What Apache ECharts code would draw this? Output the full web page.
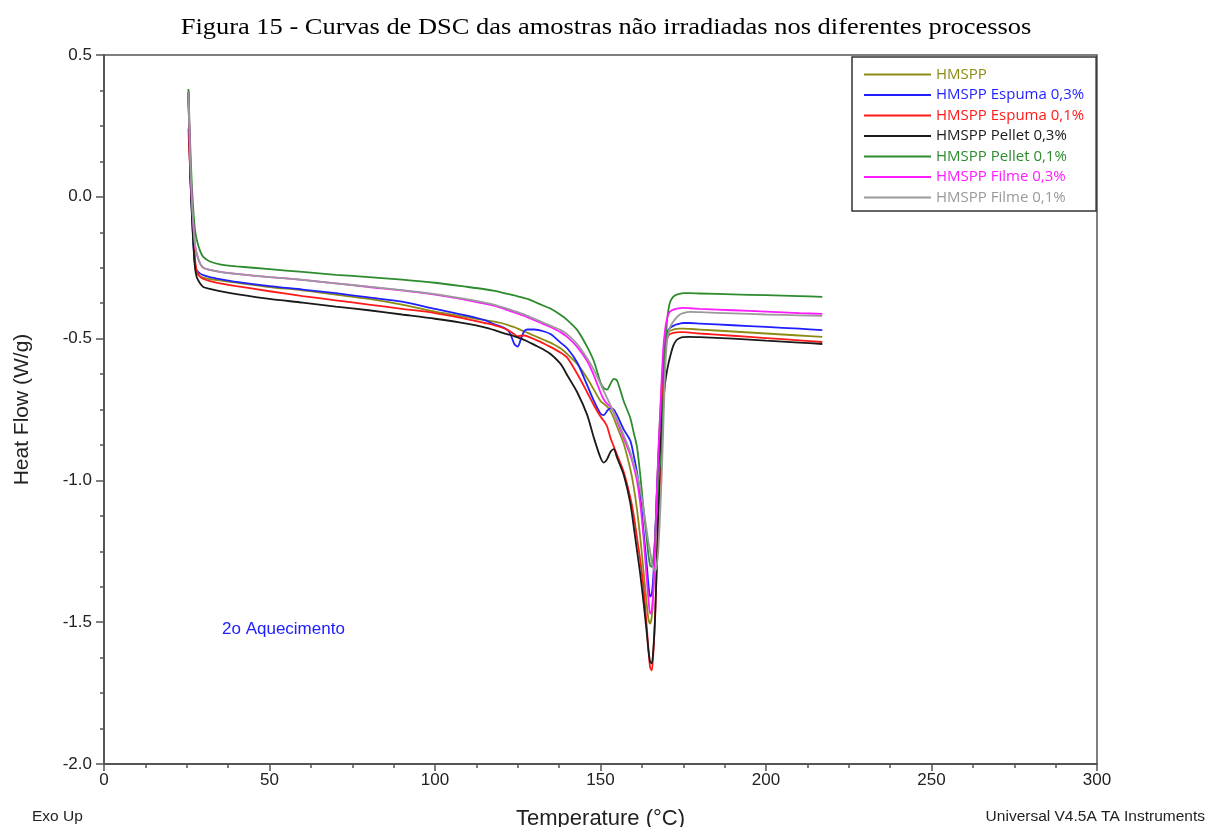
<!DOCTYPE html>
<html>
<head>
<meta charset="utf-8">
<title>DSC</title>
<script src="https://cdn.jsdelivr.net/npm/echarts@6/dist/echarts.min.js"></script>
<style>
html, body { margin: 0; padding: 0; background: #fff; }
#dsc { width: 1208px; height: 827px; }
</style>
</head>
<body>
<div id="dsc"></div>
<script>
// temperatura (°C) comum a todas as curvas
var temperatura = [25.5, 26, 26.5, 27, 27.5, 28, 29, 30, 32, 35, 40, 50, 60, 70, 80, 90, 100, 110, 115, 118, 120, 122, 123, 124, 125, 126, 127, 128, 130, 133, 135, 138, 140, 143, 146, 148, 150, 151, 152, 153, 154, 155, 157, 159, 160, 161, 162, 163, 164, 164.5, 165, 165.5, 166, 166.5, 167, 167.5, 168, 168.5, 169, 169.5, 170, 170.5, 171, 172, 173, 174, 175, 177, 180, 190, 200, 210, 217];

var nomes = ['HMSPP', 'HMSPP Espuma 0,3%', 'HMSPP Espuma 0,1%', 'HMSPP Pellet 0,3%', 'HMSPP Pellet 0,1%', 'HMSPP Filme 0,3%', 'HMSPP Filme 0,1%'];
var cores = ['#8c8c14', '#1f1fff', '#ff1a1a', '#1a1a1a', '#2e8b2e', '#ff1aff', '#9a9a9a'];

// heat flow (W/g)
var hmspp = [0.37, 0.12, -0.03, -0.15, -0.24, -0.27, -0.28, -0.285, -0.29, -0.295, -0.303, -0.318, -0.33, -0.345, -0.36, -0.38, -0.405, -0.425, -0.435, -0.44, -0.445, -0.452, -0.456, -0.46, -0.465, -0.47, -0.475, -0.48, -0.49, -0.505, -0.515, -0.535, -0.555, -0.59, -0.64, -0.68, -0.72, -0.73, -0.74, -0.755, -0.78, -0.81, -0.87, -0.96, -1.02, -1.1, -1.2, -1.32, -1.44, -1.49, -1.505, -1.48, -1.38, -1.22, -1.05, -0.9, -0.77, -0.66, -0.58, -0.52, -0.49, -0.478, -0.472, -0.468, -0.466, -0.465, -0.465, -0.466, -0.468, -0.475, -0.482, -0.489, -0.494];
var espuma03 = [0.37, 0.1, -0.04, -0.16, -0.24, -0.26, -0.27, -0.276, -0.283, -0.29, -0.3, -0.315, -0.327, -0.34, -0.355, -0.37, -0.395, -0.42, -0.435, -0.45, -0.458, -0.47, -0.49, -0.52, -0.528, -0.5, -0.473, -0.468, -0.468, -0.475, -0.485, -0.515, -0.535, -0.585, -0.665, -0.72, -0.765, -0.77, -0.755, -0.745, -0.75, -0.77, -0.82, -0.86, -0.91, -0.97, -1.05, -1.18, -1.3, -1.37, -1.41, -1.4, -1.33, -1.2, -1.05, -0.92, -0.8, -0.7, -0.6, -0.53, -0.49, -0.47, -0.462, -0.455, -0.45, -0.447, -0.445, -0.445, -0.447, -0.453, -0.459, -0.465, -0.47];
var espuma01 = [0.24, 0.1, -0.02, -0.13, -0.22, -0.26, -0.282, -0.29, -0.297, -0.305, -0.315, -0.333, -0.35, -0.365, -0.38, -0.395, -0.41, -0.432, -0.445, -0.453, -0.46, -0.47, -0.477, -0.485, -0.492, -0.49, -0.489, -0.492, -0.502, -0.518, -0.53, -0.55, -0.568, -0.625, -0.69, -0.735, -0.775, -0.79, -0.81, -0.85, -0.88, -0.91, -0.97, -1.06, -1.12, -1.2, -1.28, -1.38, -1.52, -1.6, -1.66, -1.67, -1.6, -1.48, -1.3, -1.12, -1.0, -0.8, -0.64, -0.55, -0.505, -0.49, -0.484, -0.48, -0.478, -0.477, -0.477, -0.479, -0.482, -0.49, -0.498, -0.506, -0.512];
var pellet03 = [0.37, 0.1, -0.05, -0.17, -0.25, -0.283, -0.305, -0.318, -0.325, -0.333, -0.343, -0.36, -0.373, -0.387, -0.4, -0.415, -0.43, -0.448, -0.46, -0.47, -0.478, -0.485, -0.488, -0.492, -0.496, -0.5, -0.505, -0.51, -0.522, -0.54, -0.555, -0.59, -0.63, -0.69, -0.77, -0.85, -0.92, -0.937, -0.925, -0.9, -0.89, -0.92, -0.98, -1.08, -1.16, -1.245, -1.33, -1.43, -1.54, -1.6, -1.64, -1.645, -1.59, -1.48, -1.3, -1.1, -0.92, -0.8, -0.72, -0.66, -0.62, -0.59, -0.565, -0.525, -0.505, -0.498, -0.495, -0.494, -0.495, -0.5, -0.507, -0.514, -0.519];
var pellet01 = [0.38, 0.2, 0.05, -0.05, -0.117, -0.15, -0.19, -0.212, -0.228, -0.238, -0.245, -0.255, -0.265, -0.275, -0.283, -0.292, -0.303, -0.318, -0.326, -0.332, -0.337, -0.342, -0.345, -0.348, -0.351, -0.354, -0.357, -0.36, -0.37, -0.385, -0.395, -0.417, -0.435, -0.47, -0.53, -0.58, -0.655, -0.675, -0.68, -0.66, -0.642, -0.648, -0.72, -0.78, -0.83, -0.88, -0.98, -1.1, -1.21, -1.265, -1.3, -1.305, -1.27, -1.2, -1.1, -1.0, -0.94, -0.893, -0.72, -0.55, -0.45, -0.4, -0.372, -0.352, -0.345, -0.342, -0.34, -0.34, -0.341, -0.344, -0.347, -0.35, -0.353];
var filme03 = [0.37, 0.15, 0.0, -0.1, -0.17, -0.2, -0.235, -0.25, -0.258, -0.265, -0.272, -0.283, -0.293, -0.305, -0.318, -0.33, -0.345, -0.365, -0.377, -0.385, -0.392, -0.4, -0.404, -0.408, -0.412, -0.416, -0.42, -0.425, -0.435, -0.45, -0.46, -0.478, -0.495, -0.53, -0.58, -0.63, -0.69, -0.715, -0.73, -0.74, -0.76, -0.79, -0.85, -0.91, -0.95, -1.0, -1.08, -1.2, -1.35, -1.42, -1.47, -1.46, -1.38, -1.22, -1.05, -0.9, -0.77, -0.64, -0.53, -0.47, -0.435, -0.415, -0.405, -0.398, -0.394, -0.393, -0.392, -0.393, -0.395, -0.4, -0.405, -0.41, -0.413];
var filme01 = [0.37, 0.15, 0.0, -0.1, -0.17, -0.2, -0.235, -0.25, -0.258, -0.265, -0.272, -0.283, -0.293, -0.305, -0.317, -0.329, -0.343, -0.362, -0.373, -0.381, -0.388, -0.395, -0.399, -0.403, -0.407, -0.411, -0.415, -0.42, -0.43, -0.445, -0.455, -0.47, -0.485, -0.52, -0.57, -0.61, -0.66, -0.685, -0.71, -0.735, -0.76, -0.785, -0.84, -0.9, -0.94, -0.98, -1.03, -1.1, -1.18, -1.22, -1.25, -1.29, -1.31, -1.32, -1.3, -1.24, -1.12, -0.98, -0.8, -0.62, -0.52, -0.48, -0.46, -0.44, -0.425, -0.415, -0.41, -0.406, -0.407, -0.411, -0.415, -0.418, -0.42];

var curvas = [hmspp, espuma03, espuma01, pellet03, pellet01, filme03, filme01];

function pares(ys) {
	return temperatura.map(function (t, i) { return [t, ys[i]]; });
}

var myChart = echarts.init(document.getElementById('dsc'));

var series = curvas.map(function (ys, i) {
	return {
		name: nomes[i],
		type: 'line',
		data: pares(ys),
		symbol: 'none',
		smooth: 0.25,
		lineStyle: { color: cores[i], width: 1.8 },
		itemStyle: { color: cores[i] },
		z: 2 + i
	};
});

var option = {
	backgroundColor: '#fff',
	animation: false,
	legend: {
		orient: 'vertical',
		left: 852,
		top: 57,
		padding: [10, 12, 6, 11],
		itemWidth: 67,
		itemHeight: 14,
		itemGap: 5.5,
		backgroundColor: '#fff',
		borderColor: '#333',
		borderWidth: 1.5,
		borderRadius: 0,
		itemStyle: { opacity: 0 },
		data: nomes.map(function (n, i) {
			return { name: n, textStyle: { color: cores[i] } };
		}),
		textStyle: { fontFamily: 'Open Sans', fontSize: 15 }
	},
	grid: {
		left: 104,
		right: 111,
		top: 55,
		bottom: 63,
		outerBoundsMode: 'none',
		show: true,
		borderColor: '#555',
		borderWidth: 1.5
	},
	xAxis: {
		type: 'value',
		min: 0,
		max: 300,
		interval: 50,
		name: 'Temperature (°C)',
		nameLocation: 'middle',
		nameGap: 44,
		nameTextStyle: { fontFamily: 'Liberation Sans', fontSize: 22, color: '#222' },
		axisLine: { onZero: false, lineStyle: { color: '#555', width: 2 } },
		axisTick: { length: 7, lineStyle: { color: '#555', width: 1.5 } },
		minorTick: { show: true, splitNumber: 4, length: 4, lineStyle: { color: '#555', width: 1.5 } },
		axisLabel: { fontFamily: 'Liberation Sans', fontSize: 17, color: '#222', margin: 8 },
		splitLine: { show: false }
	},
	yAxis: {
		type: 'value',
		min: -2,
		max: 0.5,
		interval: 0.5,
		name: 'Heat Flow (W/g)',
		nameLocation: 'middle',
		nameGap: 71,
		nameTextStyle: { fontFamily: 'Liberation Sans', fontSize: 21, color: '#222' },
		axisLine: { onZero: false, lineStyle: { color: '#555', width: 2 } },
		axisTick: { length: 8, lineStyle: { color: '#555', width: 1.5 } },
		minorTick: { show: true, splitNumber: 4, length: 4, lineStyle: { color: '#555', width: 1.5 } },
		axisLabel: {
			fontFamily: 'Liberation Sans', fontSize: 17, color: '#222', margin: 12,
			formatter: function (v) { return v.toFixed(1); }
		},
		splitLine: { show: false }
	},
	graphic: [
		{
			type: 'text', x: 606, y: 28, scaleX: 1.15, originX: 0,
			style: {
				text: 'Figura 15 - Curvas de DSC das amostras não irradiadas nos diferentes processos',
				fill: '#000', font: '23px "Liberation Serif"', align: 'center', verticalAlign: 'middle'
			}
		},
		{ type: 'text', left: 222, top: 621, style: { text: '2o Aquecimento', fill: '#2020ff', font: '17px "Liberation Sans"' } },
		{ type: 'text', left: 32, top: 809, style: { text: 'Exo Up', fill: '#222', font: '15.5px "Liberation Sans"' } },
		{ type: 'text', right: 3, top: 809, style: { text: 'Universal V4.5A TA Instruments', fill: '#222', font: '15.5px "Liberation Sans"' } }
	],
	series: series
};

myChart.setOption(option);
</script>
</body>
</html>
